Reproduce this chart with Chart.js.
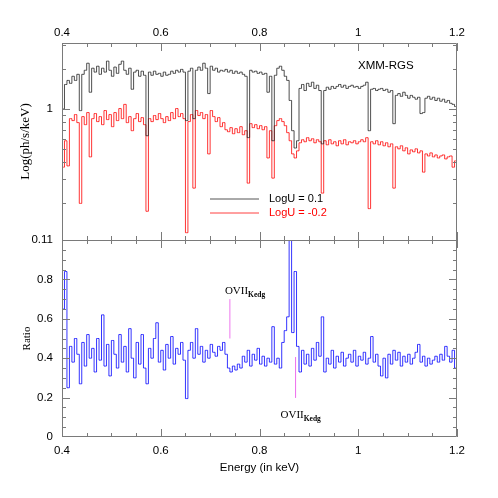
<!DOCTYPE html>
<html>
<head>
<meta charset="utf-8">
<script src="https://cdn.jsdelivr.net/npm/chart.js@4.4.1/dist/chart.umd.min.js"></script>
<style>
  html, body { margin: 0; padding: 0; background: #fff; }
  #wrap { position: relative; width: 498px; height: 498px; }
</style>
</head>
<body>
<div id="wrap"><canvas id="c" width="498" height="498"></canvas></div>
<script>
// ---- Data ----
// Energy bins (keV): 160 bins of 0.005 keV from 0.40 to 1.20 (bin centres)
const energy = Array.from({length: 160}, (_, i) => +(0.4025 + 0.005 * i).toFixed(4));

// Model spectrum, LogU = 0.1 (ph/s/keV)
const fluxHigh = [
  1.00,1.52,1.63,1.55,1.75,1.63,1.81,0.97,1.81,1.94,
  2.19,1.33,2.01,1.88,2.08,1.81,2.01,1.88,2.27,1.94,
  1.75,2.05,1.84,2.15,2.27,1.94,1.81,2.01,1.40,1.88,
  1.94,1.75,1.91,1.78,0.63,1.88,1.78,1.91,1.81,1.84,
  1.75,1.88,1.78,1.81,1.91,1.84,1.94,1.88,1.97,1.88,
  0.817,1.91,2.01,0.845,1.94,2.05,1.94,2.19,2.01,1.30,
  2.08,1.94,2.01,1.88,1.94,1.91,1.97,1.88,1.94,1.84,
  1.91,1.84,1.88,1.81,1.75,0.61,1.94,1.88,1.91,1.84,
  1.88,1.81,1.84,1.33,1.75,0.578,1.78,2.01,2.08,1.94,
  1.75,1.63,1.155,0.687,0.51,0.578,1.42,1.52,1.37,1.55,
  1.47,1.58,1.42,1.50,1.37,0.548,1.37,1.45,1.40,1.47,
  1.42,1.47,1.52,1.45,1.50,1.42,1.47,1.50,1.45,1.47,
  1.42,1.47,1.50,1.58,0.687,1.40,1.42,1.37,1.40,1.42,
  1.37,1.40,1.33,1.37,0.775,1.26,1.30,1.24,1.33,1.26,
  1.20,1.26,1.22,1.18,1.22,0.922,0.938,1.20,1.24,1.18,
  1.22,1.155,1.20,1.14,1.18,1.12,1.155,1.10,1.08,1.04
];

// Model spectrum, LogU = -0.2 (ph/s/keV)
const fluxLow = [
  0.367,0.578,0.375,0.845,0.817,0.906,0.789,0.197,0.875,0.762,
  0.938,0.438,0.845,0.922,0.803,0.875,0.762,0.971,0.831,0.906,
  0.736,0.938,0.817,1.005,0.845,1.08,0.789,0.875,0.687,0.845,
  0.922,0.803,0.860,0.762,0.172,0.845,0.803,0.891,0.831,0.922,
  0.845,0.789,0.875,0.817,0.938,0.845,1.005,0.875,0.922,0.845,
  0.119,0.803,0.906,0.256,0.971,0.891,0.938,0.845,0.906,0.461,
  0.971,0.875,0.803,0.860,0.736,0.789,0.698,0.675,0.724,0.652,
  0.711,0.664,0.736,0.641,0.687,0.279,0.775,0.724,0.762,0.711,
  0.749,0.698,0.736,0.430,0.687,0.304,0.749,0.817,0.845,0.803,
  0.749,0.664,0.578,0.461,0.430,0.486,0.558,0.588,0.568,0.609,
  0.578,0.598,0.558,0.588,0.568,0.235,0.578,0.539,0.588,0.548,
  0.568,0.530,0.578,0.548,0.588,0.539,0.568,0.558,0.578,0.548,
  0.568,0.588,0.568,0.609,0.180,0.568,0.548,0.578,0.539,0.568,
  0.530,0.558,0.521,0.548,0.256,0.521,0.503,0.530,0.486,0.512,
  0.461,0.494,0.478,0.503,0.469,0.486,0.337,0.461,0.445,0.469,
  0.438,0.453,0.430,0.445,0.453,0.423,0.438,0.445,0.367,0.409
];

// Ratio of the two spectra
const ratio = [
  0.65,0.84,0.25,0.46,0.38,0.50,0.42,0.27,0.48,0.36,
  0.52,0.40,0.45,0.33,0.50,0.39,0.62,0.36,0.47,0.31,
  0.49,0.42,0.35,0.52,0.38,0.46,0.33,0.55,0.40,0.30,
  0.48,0.37,0.52,0.35,0.27,0.45,0.40,0.50,0.58,0.38,
  0.44,0.34,0.47,0.40,0.51,0.37,0.45,0.42,0.48,0.39,
  0.195,0.44,0.48,0.40,0.55,0.42,0.46,0.38,0.44,0.40,
  0.47,0.43,0.41,0.46,0.44,0.48,0.42,0.35,0.33,0.36,
  0.34,0.37,0.35,0.41,0.38,0.44,0.36,0.42,0.39,0.45,
  0.37,0.41,0.36,0.40,0.38,0.56,0.37,0.40,0.35,0.48,
  0.54,0.61,1.00,0.53,0.84,0.46,0.33,0.44,0.37,0.42,
  0.36,0.45,0.39,0.48,0.41,0.61,0.33,0.40,0.37,0.44,
  0.35,0.41,0.38,0.43,0.36,0.40,0.42,0.38,0.44,0.36,
  0.41,0.39,0.43,0.37,0.40,0.51,0.38,0.42,0.36,0.31,
  0.40,0.30,0.42,0.37,0.44,0.39,0.43,0.36,0.41,0.38,
  0.42,0.37,0.40,0.43,0.47,0.38,0.41,0.36,0.40,0.37,
  0.39,0.41,0.38,0.42,0.39,0.46,0.41,0.38,0.44,0.35
];

// OVII K-edge markers (energy, ratio from, ratio to)
const edgeMarkE = [0.740, 0.873];
const edgeMarkFrom = [0.50, 0.405];
const edgeMarkTo = [0.70, 0.20];
const edgeLabel = 'OVII';
const edgeSub = 'Kedg';

// Tick labels
const xTicks = [0.4, 0.6, 0.8, 1.0, 1.2];
const yTopTicks = [1];
const yBotTicks = [0, 0.2, 0.4, 0.6, 0.8, 1.0];
const yBotTickText = ['0', '0.2', '0.4', '0.6', '0.8', '0.11'];
const seriesNames = ['LogU = 0.1', 'LogU = -0.2'];
const instrument = 'XMM-RGS';

// ---- Chart ----
const SANS = '"Liberation Sans", Arial, Helvetica, sans-serif';
const SERIF = '"Liberation Serif", "Times New Roman", serif';
const frameColor = '#7a7a7a';
const pts = (ys) => energy.map((e, i) => ({x: e, y: ys[i]}));

const marks = edgeMarkE.map((e, k) => ({
  type: 'line',
  data: [{x: e, y: edgeMarkFrom[k]}, {x: e, y: edgeMarkTo[k]}],
  borderColor: '#ee77ee', borderWidth: 1, pointRadius: 0,
  xAxisID: 'x', yAxisID: 'yBot'
}));

const decor = {
  id: 'decor',
  afterDatasetsDraw(chart) {
    const {ctx, chartArea: a, scales} = chart;
    const xs = scales.x, yt = scales.yTop, yb = scales.yBot;
    const mid = Math.round(yb.getPixelForValue(1));
    ctx.save();
    ctx.strokeStyle = frameColor;
    ctx.lineWidth = 1;
    ctx.beginPath();
    ctx.rect(a.left + 0.5, a.top + 0.5, a.right - a.left - 1, a.bottom - a.top - 1);
    ctx.moveTo(a.left, mid + 0.5); ctx.lineTo(a.right, mid + 0.5);
    // x ticks (inward), every 0.05 keV, major every 0.2
    for (let k = 0; k <= 16; k++) {
      const px = Math.round(xs.getPixelForValue(0.4 + k * 0.05)) + 0.5;
      const L = (k % 4 === 0) ? 8 : 4;
      ctx.moveTo(px, a.top); ctx.lineTo(px, a.top + L);
      ctx.moveTo(px, a.bottom); ctx.lineTo(px, a.bottom - L);
      ctx.moveTo(px, mid - L); ctx.lineTo(px, mid + L);
    }
    // top panel log ticks
    const logT = [0.2,0.3,0.4,0.5,0.6,0.7,0.8,0.9,1,2,3];
    logT.forEach(v => {
      const py = Math.round(yt.getPixelForValue(v)) + 0.5;
      const L = (v === 1) ? 8 : 4;
      ctx.moveTo(a.left, py); ctx.lineTo(a.left + L, py);
      ctx.moveTo(a.right, py); ctx.lineTo(a.right - L, py);
    });
    // bottom panel ticks
    for (let k = 1; k < 20; k++) {
      const py = Math.round(yb.getPixelForValue(k * 0.05)) + 0.5;
      const L = (k % 4 === 0) ? 8 : 4;
      ctx.moveTo(a.left, py); ctx.lineTo(a.left + L, py);
      ctx.moveTo(a.right, py); ctx.lineTo(a.right - L, py);
    }
    ctx.stroke();

    // instrument label
    ctx.fillStyle = '#000';
    ctx.font = '11.5px ' + SANS;
    ctx.textBaseline = 'middle';
    ctx.textAlign = 'left';
    ctx.fillText(instrument, 358, 66);

    // legend
    ctx.lineWidth = 1;
    ctx.strokeStyle = '#555';
    ctx.beginPath(); ctx.moveTo(210, 199); ctx.lineTo(259, 199); ctx.stroke();
    ctx.strokeStyle = '#ff4040';
    ctx.beginPath(); ctx.moveTo(210, 213); ctx.lineTo(259, 213); ctx.stroke();
    ctx.font = '11px ' + SANS;
    ctx.fillStyle = '#000';
    ctx.fillText(seriesNames[0], 269, 199);
    ctx.fillStyle = '#ff0000';
    ctx.fillText(seriesNames[1], 269, 213);

    // OVII K-edge labels
    ctx.fillStyle = '#000';
    ctx.textBaseline = 'alphabetic';
    const lab = (k, dx, baseY) => {
      const px = xs.getPixelForValue(edgeMarkE[k]) + dx;
      ctx.font = '11px ' + SERIF;
      ctx.fillText(edgeLabel, px, baseY);
      const w = ctx.measureText(edgeLabel).width;
      ctx.font = 'bold 7.5px ' + SERIF;
      ctx.fillText(edgeSub, px + w, baseY + 3);
    };
    lab(0, -5, yb.getPixelForValue(edgeMarkTo[0]) - 5);
    lab(1, -15, yb.getPixelForValue(edgeMarkTo[1]) + 20);
    ctx.restore();
  }
};

const fmt = v => String(+(+v).toFixed(2));

new Chart(document.getElementById('c'), {
  type: 'line',
  data: {
    datasets: [
      { label: seriesNames[0], data: pts(fluxHigh), borderColor: '#222', borderWidth: 0.8,
        pointRadius: 0, stepped: 'middle', xAxisID: 'x', yAxisID: 'yTop' },
      { label: seriesNames[1], data: pts(fluxLow), borderColor: '#ff0000', borderWidth: 0.8,
        pointRadius: 0, stepped: 'middle', xAxisID: 'x', yAxisID: 'yTop' },
      { label: 'Ratio', data: pts(ratio), borderColor: '#0000ff', borderWidth: 0.8,
        pointRadius: 0, stepped: 'middle', xAxisID: 'x', yAxisID: 'yBot' },
      ...marks
    ]
  },
  options: {
    responsive: false,
    animation: false,
    layout: { padding: { left: 0, right: 41, top: 0, bottom: 0 } },
    plugins: { legend: { display: false }, tooltip: { enabled: false } },
    scales: {
      x: {
        type: 'linear', position: 'bottom', min: 0.4, max: 1.2,
        afterFit: s => { s.height = 61; },
        afterBuildTicks: s => { s.ticks = xTicks.map(v => ({value: v})); },
        ticks: { callback: fmt, font: { family: SANS, size: 11.5 }, color: '#000', padding: 7, maxRotation: 0, autoSkip: false },
        grid: { display: false, drawTicks: false }, border: { display: false },
        title: { display: true, text: 'Energy (in keV)', font: { family: SANS, size: 11.5 }, color: '#000', padding: { top: 0, bottom: 23 } }
      },
      x2: {
        type: 'linear', position: 'top', min: 0.4, max: 1.2,
        afterFit: s => { s.height = 43; },
        afterBuildTicks: s => { s.ticks = xTicks.map(v => ({value: v})); },
        ticks: { callback: fmt, font: { family: SANS, size: 11.5 }, color: '#000', padding: 3, maxRotation: 0, autoSkip: false },
        grid: { display: false, drawTicks: false }, border: { display: false }
      },
      yBot: {
        type: 'linear', position: 'left', stack: 'panels', stackWeight: 1, min: 0, max: 1,
        afterFit: s => { s.width = 62; },
        afterBuildTicks: s => { s.ticks = yBotTicks.map(v => ({value: v})); },
        ticks: { callback: (v) => { const i = yBotTicks.indexOf(+(+v).toFixed(2)); return i >= 0 ? yBotTickText[i] : ''; },
                 font: { family: SANS, size: 11.5 }, color: '#000', padding: 9, autoSkip: false },
        grid: { display: false, drawTicks: false }, border: { display: false },
        title: { display: true, text: 'Ratio', font: { family: SERIF, size: 11 }, color: '#000', padding: { top: 21, bottom: 0 } }
      },
      yTop: {
        type: 'logarithmic', position: 'left', stack: 'panels', stackWeight: 1, min: 0.105, max: 3.1,
        afterFit: s => { s.width = 62; },
        afterBuildTicks: s => { s.ticks = yTopTicks.map(v => ({value: v})); },
        ticks: { callback: v => fmt(v), font: { family: SANS, size: 11.5 }, color: '#000', padding: 9, autoSkip: false },
        grid: { display: false, drawTicks: false }, border: { display: false },
        title: { display: true, text: 'Log(ph/s/keV)', font: { family: SERIF, size: 13 }, color: '#000', padding: { top: 18, bottom: 0 } }
      }
    }
  },
  plugins: [decor]
});
</script>
</body>
</html>
